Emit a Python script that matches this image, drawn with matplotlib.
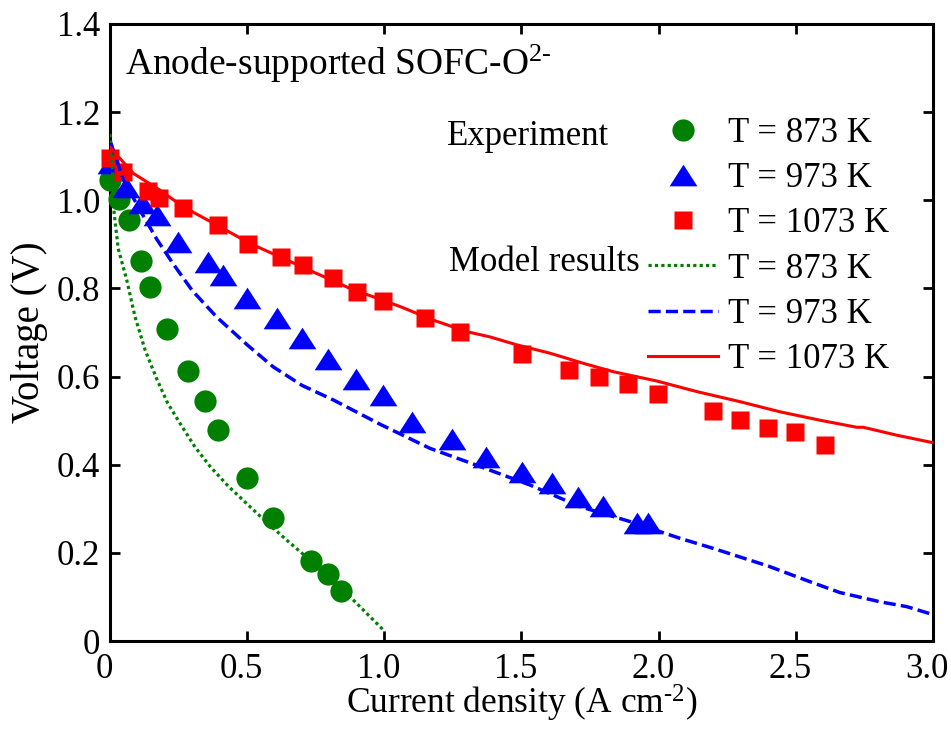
import matplotlib
matplotlib.use("Agg")
import matplotlib.pyplot as plt
import matplotlib.transforms as mtransforms
from matplotlib.path import Path
from matplotlib.ticker import FuncFormatter

plt.rcParams['font.family'] = ['Liberation Serif', 'DejaVu Serif']
plt.rcParams['mathtext.fontset'] = 'custom'
plt.rcParams['mathtext.rm'] = 'Liberation Serif'
plt.rcParams['mathtext.it'] = 'Liberation Serif:italic'

# Experimental data
exp873_x = [0.0, 0.034, 0.07, 0.112, 0.146, 0.207, 0.284, 0.346, 0.395, 0.498, 0.594, 0.732, 0.796, 0.843]
exp873_v = [1.045, 1.004, 0.955, 0.863, 0.804, 0.707, 0.613, 0.544, 0.479, 0.371, 0.280, 0.182, 0.151, 0.113]

exp973_x = [0.003, 0.06, 0.115, 0.17, 0.249, 0.358, 0.413, 0.498, 0.608, 0.699, 0.796, 0.897,
            0.996, 1.10, 1.246, 1.371, 1.501, 1.61, 1.707, 1.798, 1.92, 1.962]
exp973_v = [1.085, 1.031, 0.993, 0.967, 0.906, 0.861, 0.830, 0.778, 0.732, 0.687, 0.641, 0.595,
            0.558, 0.498, 0.458, 0.418, 0.384, 0.358, 0.327, 0.306, 0.268, 0.268]

exp1073_x = [0.0, 0.049, 0.140, 0.178, 0.267, 0.395, 0.504, 0.623, 0.705, 0.814, 0.899, 0.996,
             1.148, 1.276, 1.501, 1.675, 1.784, 1.887, 1.999, 2.2, 2.297, 2.40, 2.497, 2.607]
exp1073_v = [1.095, 1.065, 1.02, 1.005, 0.982, 0.944, 0.901, 0.872, 0.853, 0.824, 0.793, 0.772,
             0.732, 0.702, 0.652, 0.614, 0.600, 0.583, 0.560, 0.523, 0.501, 0.484, 0.475, 0.445]

# Model results
mod873_x = [0.0, 0.006, 0.015, 0.03, 0.061, 0.091, 0.128, 0.17, 0.21, 0.255, 0.31, 0.365, 0.43,
            0.498, 0.57, 0.644, 0.73, 0.814, 0.9, 0.99, 1.0]
mod873_v = [1.15, 1.11, 0.97, 0.89, 0.819, 0.736, 0.66, 0.595, 0.54, 0.494, 0.44, 0.396, 0.352,
            0.312, 0.27, 0.229, 0.183, 0.138, 0.085, 0.029, 0.02]

mod973_x = [0.003, 0.049, 0.109, 0.17, 0.231, 0.30, 0.389, 0.5, 0.595, 0.70, 0.814, 0.984, 1.167,
            1.349, 1.531, 1.713, 1.896, 2.078, 2.2, 2.4, 2.55, 2.661, 2.807, 2.905, 3.0]
mod973_v = [1.13, 1.046, 0.978, 0.912, 0.855, 0.795, 0.735, 0.672, 0.622, 0.58, 0.547, 0.492, 0.437,
            0.396, 0.354, 0.305, 0.271, 0.233, 0.21, 0.17, 0.135, 0.11, 0.089, 0.078, 0.06]

mod1073_x = [0.0, 0.085, 0.182, 0.267, 0.389, 0.51, 0.632, 0.753, 0.875, 1.057, 1.179, 1.30, 1.385,
             1.483, 1.604, 1.726, 1.835, 1.993, 2.139, 2.297, 2.443, 2.588, 2.722, 2.746, 2.868, 3.0]
mod1073_v = [1.12, 1.061, 1.023, 0.985, 0.944, 0.902, 0.868, 0.834, 0.80, 0.759, 0.728, 0.702, 0.69,
             0.672, 0.653, 0.630, 0.611, 0.59, 0.566, 0.543, 0.52, 0.501, 0.485, 0.485, 0.467, 0.45]

labels = ['T = 873 K', 'T = 973 K', 'T = 1073 K']
xticks = [0, 0.5, 1.0, 1.5, 2.0, 2.5, 3.0]
yticks = [0, 0.2, 0.4, 0.6, 0.8, 1.0, 1.2, 1.4]

green = '#007f00'
blue = '#0000ff'
red = '#ff0000'

tri = Path([(-1, -0.78), (1, -0.78), (0, 0.78), (-1, -0.78)],
           [Path.MOVETO, Path.LINETO, Path.LINETO, Path.CLOSEPOLY])

fig = plt.figure(figsize=(9.51, 7.38), dpi=100)
ax = fig.add_axes([0.1157, 0.1314, 0.981 - 0.1157, 0.9675 - 0.1314])

FS = 25

h1, = ax.plot(exp873_x, exp873_v, 'o', color=green, ms=16, mec='none', clip_on=False, zorder=3)
h2, = ax.plot(exp973_x, exp973_v, linestyle='none', marker=tri, color=blue, ms=20, mec='none', clip_on=False, zorder=3)
h3, = ax.plot(exp1073_x, exp1073_v, 's', color=red, ms=13.5, mec='none', clip_on=False, zorder=3)

l1, = ax.plot(mod873_x, mod873_v, color=green, lw=2.3, linestyle=(0, (1, 1)), zorder=4)
l2, = ax.plot(mod973_x, mod973_v, color=blue, lw=2.5, linestyle=(0, (3.5, 1.5)), zorder=4)
l3, = ax.plot(mod1073_x, mod1073_v, color=red, lw=2.2, linestyle='-', zorder=4)

ax.set_xlim(0, 3.0)
ax.set_ylim(0, 1.4)
ax.set_xticks(xticks)
ax.set_yticks(yticks)
fmt = FuncFormatter(lambda v, p: '0' if abs(v) < 1e-9 else f'{v:.1f}')
ax.xaxis.set_major_formatter(fmt)
ax.yaxis.set_major_formatter(fmt)
ax.tick_params(direction='in', length=7, width=2, labelsize=FS, top=True, right=True)
ax.tick_params(axis='x', pad=7)
ax.tick_params(axis='y', pad=7)
for s in ax.spines.values():
    s.set_linewidth(2.2)

shift = mtransforms.ScaledTranslation(-6 / 100, -2 / 100, fig.dpi_scale_trans)
for lab in ax.get_xticklabels():
    lab.set_transform(lab.get_transform() + shift)

ax.set_xlabel(r'Current density (A cm$^{\text{-}2}$)', fontsize=25.5, labelpad=-2)
ax.set_ylabel('Voltage (V)', fontsize=28, labelpad=6)

ax.text(0.018, 0.935, r'Anode-supported SOFC-O$^{2\text{-}}$', transform=ax.transAxes,
        fontsize=27, ha='left', va='center')

leg = ax.legend([h1, h2, h3, l1, l2, l3], labels + labels, loc='upper left',
                bbox_to_anchor=(0.654, 0.849), frameon=False, fontsize=FS,
                handlelength=2.0, handletextpad=0.3, labelspacing=0.35, borderpad=0.0,
                borderaxespad=0.0)

ax.text(0.409, 0.817, 'Experiment', transform=ax.transAxes, fontsize=FS, ha='left', va='center')
ax.text(0.412, 0.614, 'Model results', transform=ax.transAxes, fontsize=FS, ha='left', va='center')

fig.savefig('out.png', dpi=100)
